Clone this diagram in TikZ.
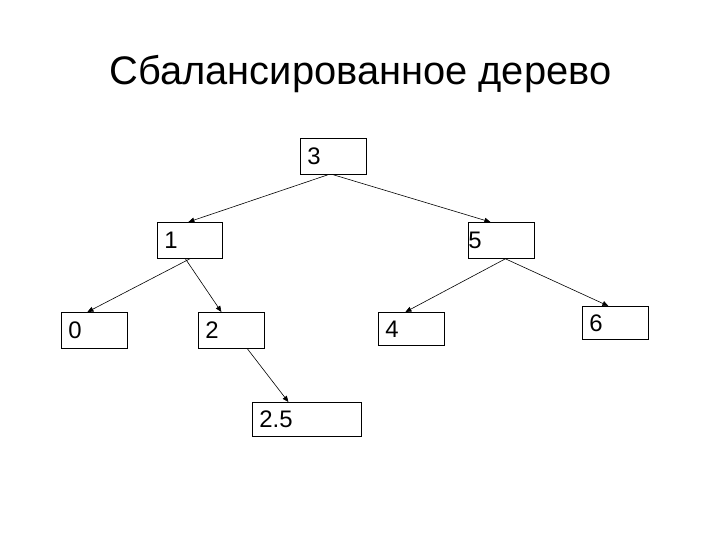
\documentclass[tikz,border=0pt]{standalone}
\usepackage{fontspec}
\setmainfont{Liberation Sans}
\usepackage{tikz}
\usetikzlibrary{arrows.meta, positioning}

\begin{document}
\begin{tikzpicture}[
  x=1bp, y=-1bp,
  every node/.style={font=\fontsize{24}{28}\selectfont},
  keybox/.style={rectangle, draw, line width=0.8pt, anchor=north west, inner xsep=7bp, inner ysep=0pt, minimum height=36bp, align=left},
  link/.style={-{Triangle[length=6bp, width=5bp]}, line width=0.6pt},
]
  \useasboundingbox (0,0) rectangle (720,540);

  % Titre
  \node[anchor=base, font=\fontsize{40}{48}\selectfont] (title) at (360.5,85) {Сбалансированное дерево};

  % Noeuds
  \node[keybox, text width=52bp] (n3) at (300,138) {3};
  \node[keybox, text width=51bp] (n1) at (157,222) {1};
  \node[keybox, text width=66bp, inner xsep=0pt] (n5) at (468,222) {5};
  \node[keybox, text width=52bp] (n0) at (61,312) {0};
  \node[keybox, text width=52bp] (n2) at (198,312) {2};
  \node[keybox, text width=52bp, minimum height=33bp] (n4) at (378,312) {4};
  \node[keybox, text width=52bp, minimum height=33bp] (n6) at (582,306) {6};
  \node[keybox, text width=95bp, minimum height=34bp] (n25) at (252,402) {2.5};

  % Liens
  \draw[link] ([xshift=-5.5bp]n3.south) -- ([xshift=-1.5bp]n1.north);
  \draw[link] (n3.south) -- ([xshift=-11bp]n5.north);
  \draw[link] (n1.south) -- ([xshift=-7bp]n0.north);
  \draw[link] ([xshift=-4.5bp]n1.south) -- ([xshift=-10bp]n2.north);
  \draw[link] ([xshift=16bp]n2.south) -- ([xshift=-18.5bp]n25.north);
  \draw[link] ([xshift=4bp]n5.south) -- ([xshift=-6bp]n4.north);
  \draw[link] ([xshift=4bp]n5.south) -- ([xshift=-7bp]n6.north);
\end{tikzpicture}
\end{document}
